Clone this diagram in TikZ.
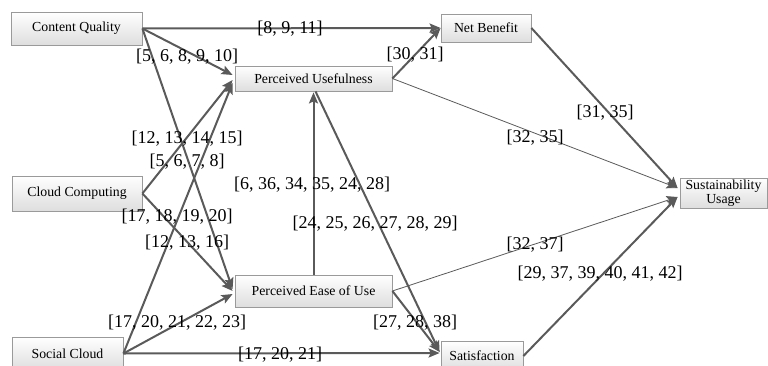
\documentclass[tikz,border=0pt]{standalone}
\usepackage{fontspec}
\setmainfont{Liberation Serif}
\usetikzlibrary{arrows.meta}
\definecolor{edgecol}{HTML}{5A5A5A}
\definecolor{boxline}{HTML}{9A9A9A}
\begin{document}
\begin{tikzpicture}[x=1pt,y=1pt,
  box/.style={draw=boxline, line width=0.8pt, top color=white, bottom color=black!13,
    inner sep=0pt, align=center, font=\fontsize{13.8}{13.5}\selectfont},
  lab/.style={inner sep=0pt, font=\fontsize{18}{20}\selectfont},
  tip/.style={-{Stealth[length=11pt,width=9pt,inset=2pt]}},
  thk/.style={draw=edgecol, line width=2pt, tip},
  thn/.style={draw=edgecol, line width=0.8pt, tip}]
\useasboundingbox (0,0) rectangle (768,365);
\begin{scope}
\clip (0,0) rectangle (768,365);
% nodes
\node[box, minimum width=131, minimum height=33] (CQ) at (76.5,336.5) {Content Quality};
\node[box, minimum width=90, minimum height=28] (NB) at (486,337) {Net Benefit};
\node[box, minimum width=157, minimum height=25] (PU) at (313.5,286.5) {Perceived Usefulness};
\node[box, minimum width=130, minimum height=35] (CC) at (77,171.5) {Cloud Computing};
\node[box, minimum width=87, minimum height=30] (SU) at (723.5,172) {Sustainability\\Usage};
\node[box, minimum width=157, minimum height=32] (PEU) at (313.5,74) {Perceived Ease of Use};
\node[box, minimum width=111, minimum height=33] (SC) at (67.5,11.5) {Social Cloud};
\node[box, minimum width=82, minimum height=30] (SAT) at (482,9) {Satisfaction};
% edges
\draw[thk] (CQ.east) -- (NB.west);
\draw[thk] (CQ.east) -- ([xshift=-2pt,yshift=3.5pt]PU.west);
\draw[thk] (CQ.east) -- ([xshift=-2pt,yshift=2pt]PEU.west);
\draw[thk] (CC.east) -- ([xshift=-2pt,yshift=-1.5pt]PU.west);
\draw[thk] (CC.east) -- ([xshift=-2pt]PEU.west);
\draw[thk] (SC.east) -- ([xshift=-2pt,yshift=-4.5pt]PU.west);
\draw[thk] (SC.east) -- ([xshift=-2pt,yshift=-3pt]PEU.west);
\draw[thk] (SC.east) -- ([xshift=-1pt,yshift=3pt]SAT.west);
\draw[thk] (PEU.north) -- ([yshift=-1pt]PU.south);
\draw[thk] ([xshift=2pt]PU.south) -- ([xshift=-1pt,yshift=4pt]SAT.west);
\draw[thk] (PEU.east) -- ([xshift=-1pt,yshift=4pt]SAT.west);
\draw[thk] (PU.east) -- (NB.west);
\draw[thn] (PU.east) -- ([xshift=-2pt,yshift=5pt]SU.west);
\draw[thk] (NB.east) -- ([xshift=-2pt,yshift=5pt]SU.west);
\draw[thn] (PEU.east) -- ([xshift=-2pt,yshift=-4pt]SU.west);
\draw[thk] (SAT.east) -- ([xshift=-2pt,yshift=-4pt]SU.west);
% labels
\node[lab] (l1) at (290,336) {[8, 9, 11]};
\node[lab] (l2) at (187,308) {[5, 6, 8, 9, 10]};
\node[lab] (l3) at (415,310) {[30, 31]};
\node[lab] (l4) at (605,252) {[31, 35]};
\node[lab] (l5) at (535,227) {[32, 35]};
\node[lab] (l6) at (187,226) {[12, 13, 14, 15]};
\node[lab] (l7) at (187,203) {[5, 6, 7, 8]};
\node[lab] (l8) at (312,180) {[6, 36, 34, 35, 24, 28]};
\node[lab] (l9) at (177,148) {[17, 18, 19, 20]};
\node[lab] (l10) at (187,122) {[12, 13, 16]};
\node[lab] (l11) at (375,141) {[24, 25, 26, 27, 28, 29]};
\node[lab] (l12) at (535,120) {[32, 37]};
\node[lab] (l13) at (600,91) {[29, 37, 39, 40, 41, 42]};
\node[lab] (l14) at (177,42) {[17, 20, 21, 22, 23]};
\node[lab] (l15) at (415,42) {[27, 28, 38]};
\node[lab] (l16) at (280,10) {[17, 20, 21]};
\end{scope}
\end{tikzpicture}
\end{document}
